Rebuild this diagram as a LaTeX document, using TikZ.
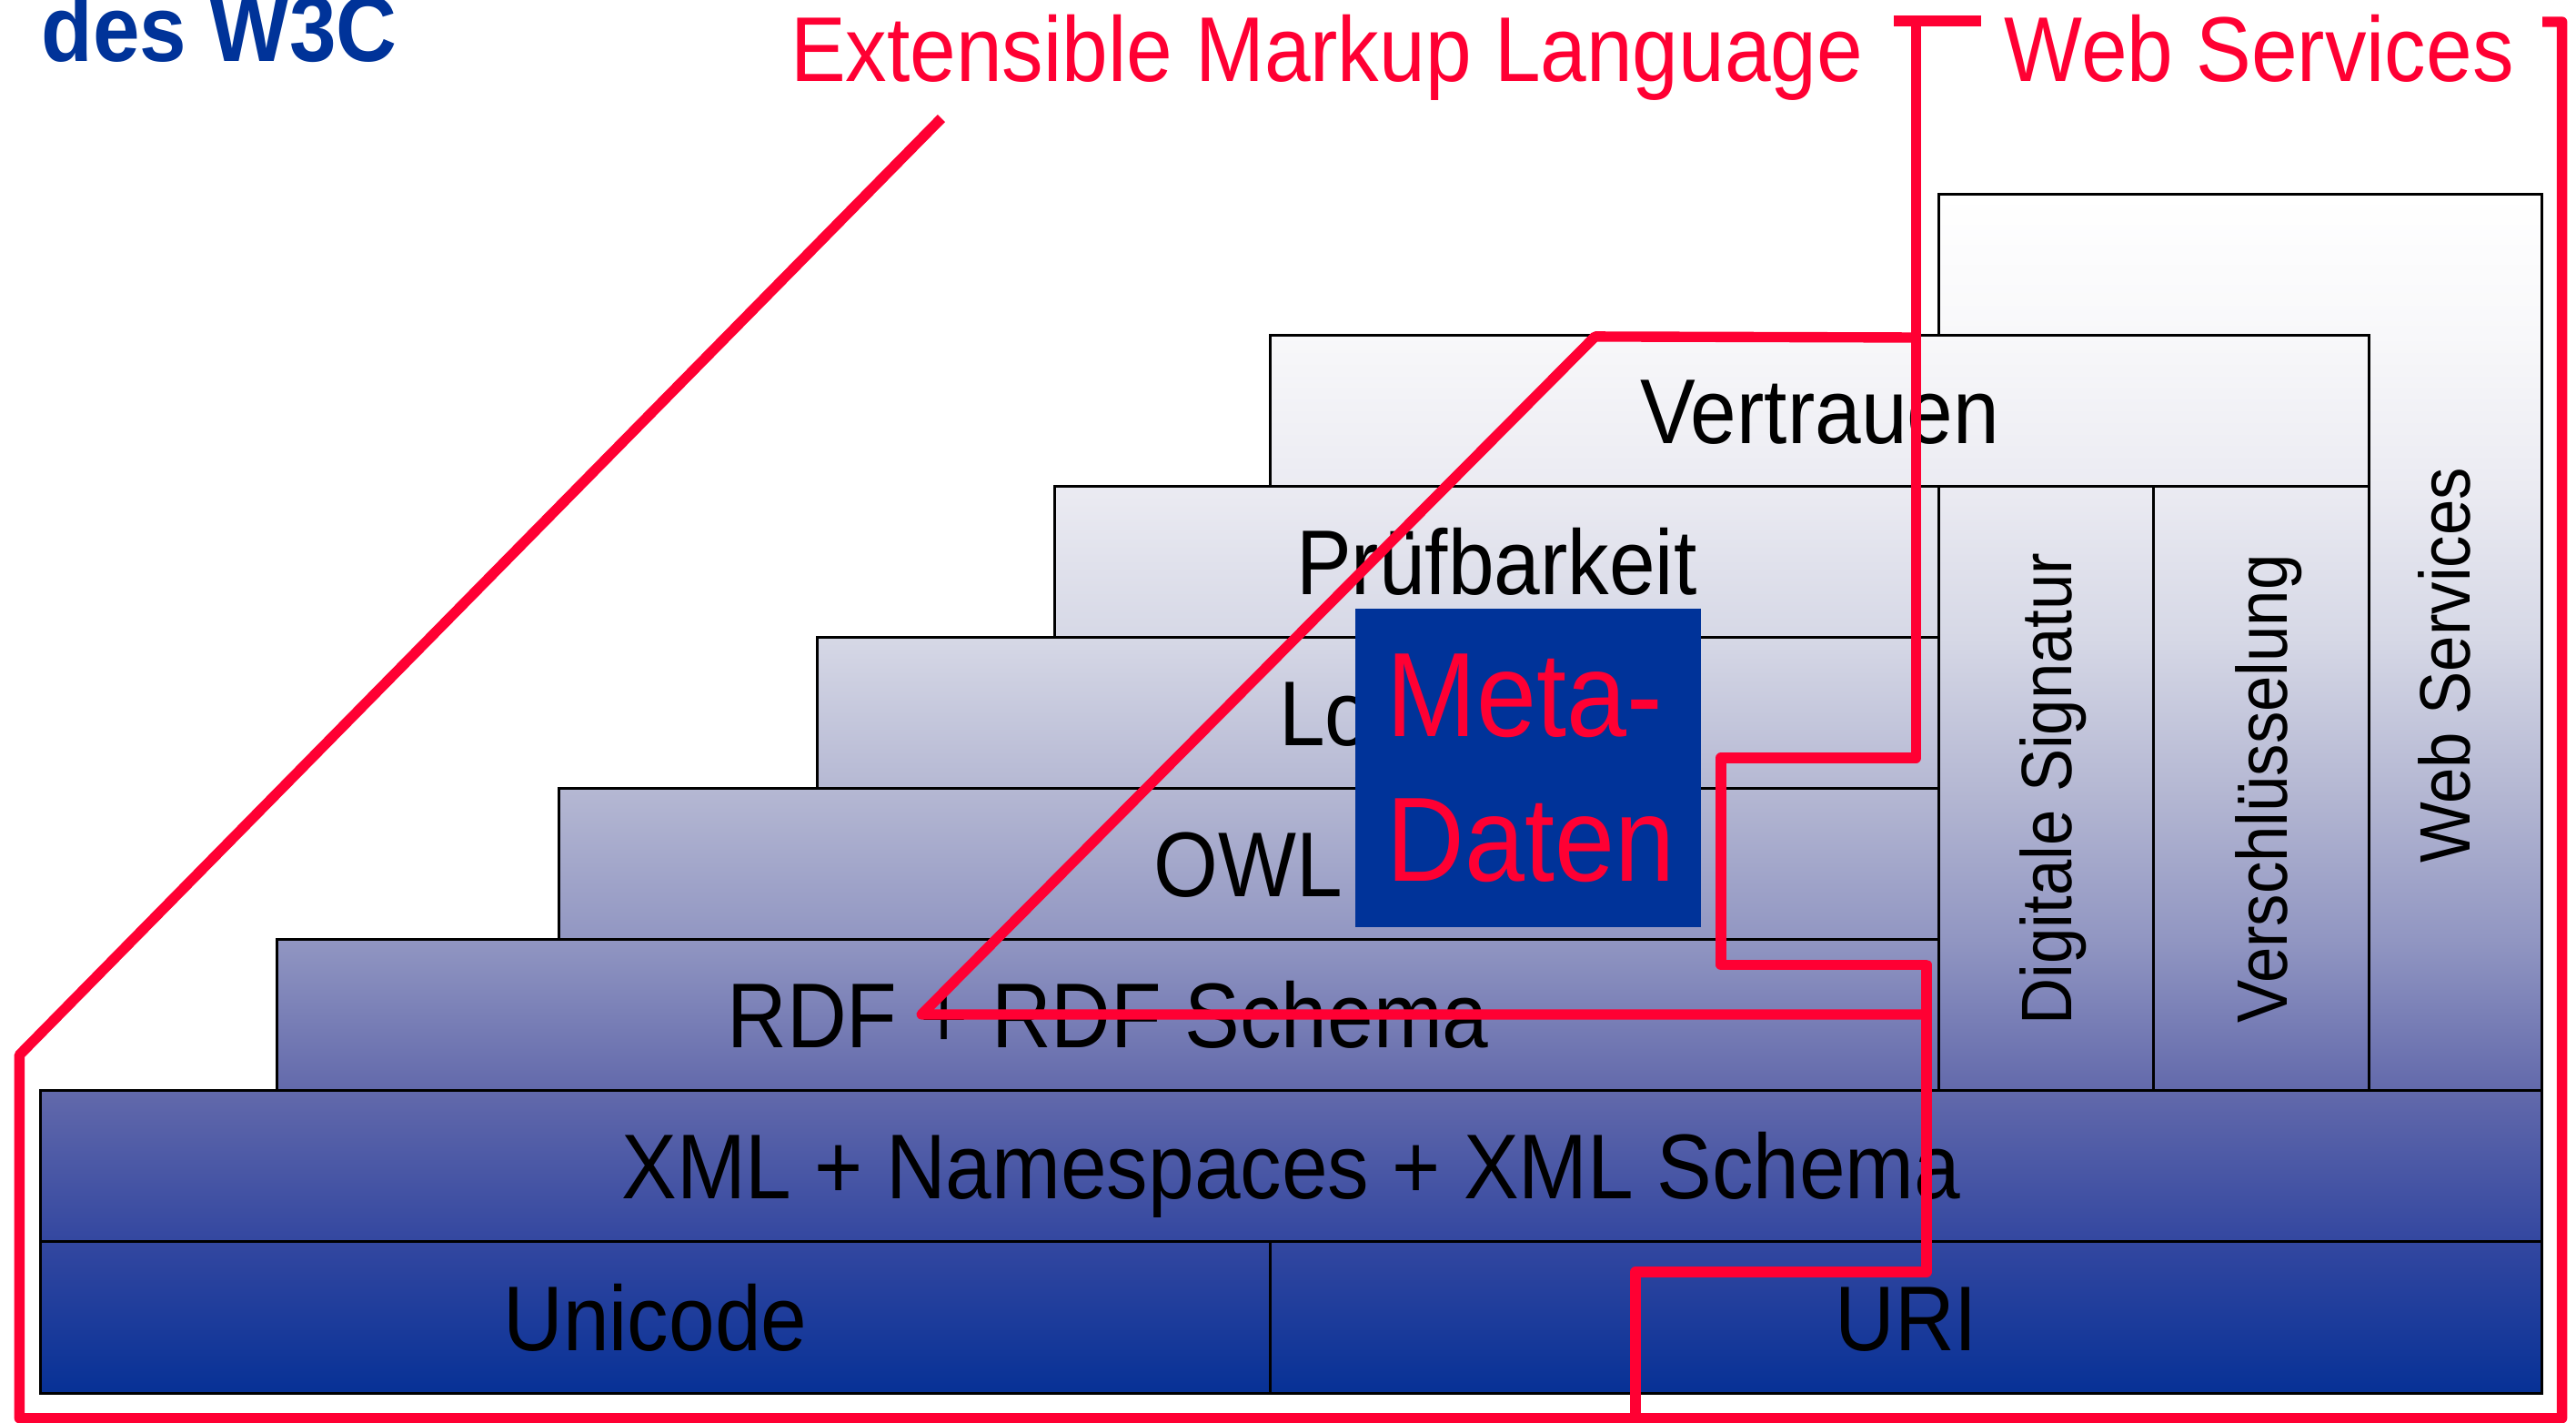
\documentclass[tikz,border=0pt]{standalone}
\usepackage{fontspec}
\setmainfont{Liberation Sans}[FakeStretch=0.9]

% colours
\definecolor{w3cblue}{HTML}{003399}
\definecolor{markred}{HTML}{FF0033}
\definecolor{g0}{HTML}{FFFFFF}
\definecolor{g1}{HTML}{F8F8FA}
\definecolor{g2}{HTML}{EBEBF2}
\definecolor{g3}{HTML}{D6D8E6}
\definecolor{g4}{HTML}{B5B8D3}
\definecolor{g5}{HTML}{9196C2}
\definecolor{g6}{HTML}{6269AB}
\definecolor{g7}{HTML}{3347A0}
\definecolor{g8}{HTML}{073196}

% one vertical gradient for the whole layer stack (25bp..75bp span the stack)
\pgfdeclareverticalshading{layerfill}{100bp}{%
  color(0bp)=(g8); color(25bp)=(g8); color(31.3bp)=(g7); color(37.6bp)=(g6);
  color(43.9bp)=(g5); color(50.21bp)=(g4); color(56.51bp)=(g3);
  color(62.81bp)=(g2); color(69.11bp)=(g1); color(75bp)=(g0); color(100bp)=(g0)}

\begin{document}
\begin{tikzpicture}[x=1pt,y=-1pt,
  layer/.style={draw=black, line width=1.6pt, inner sep=0pt,
    text height=40pt, text depth=0pt, font=\fontsize{56pt}{60pt}\selectfont},
  sidelayer/.style={layer, rotate=90, text height=31pt,
    font=\fontsize{43.5pt}{48pt}\selectfont},
  redline/.style={draw=markred, line width=6.3pt, line join=round},
  title/.style={anchor=base west, inner sep=0pt, text=markred,
    font=\fontsize{56pt}{60pt}\selectfont}]
\useasboundingbox (0,0) rectangle (1568,865.4);

% gradient fill of the whole stack
\begin{scope}
  \clip (24.4,847.7) -- (1547.4,847.7) -- (1547.4,118.1) -- (1180,118.1)
     -- (1180,204.2) -- (773.3,204.2) -- (773.3,296.1) -- (641.9,296.1)
     -- (641.9,388) -- (497.5,388) -- (497.5,479.9) -- (340,479.9)
     -- (340,571.8) -- (168.8,571.8) -- (168.8,663.7) -- (24.4,663.7) -- cycle;
  \shade[shading=layerfill] (24.4,118.1) rectangle (1547.4,847.7);
\end{scope}

% web services column (behind the trust layer)
\node[layer, minimum width=367.4, minimum height=545.6] (ws) at (1363.7,390.9) {};

% trust layer covers the column outline
\begin{scope}
  \clip (773.3,204.2) rectangle (1442,296.1);
  \shade[shading=layerfill] (24.4,118.1) rectangle (1547.4,847.7);
\end{scope}
\node[layer, minimum width=668.7, minimum height=91.9] (vert) at (1107.65,250.15) {Vertrauen};

% layer stack
\node[layer, minimum width=748.9, minimum height=92.1] (uni) at (398.85,801.65) {Unicode};
\node[layer, minimum width=774.1, minimum height=92.1] (uri) at (1160.35,801.65) {URI};
\node[layer, minimum width=1523, minimum height=91.9] (xml) at (785.9,709.65) {XML + Namespaces + XML Schema};
\node[layer, minimum width=1011.2, minimum height=91.9] (rdf) at (674.4,617.75) {RDF + RDF Schema};
\node[layer, minimum width=840, minimum height=91.9] (owl) at (760,525.85) {OWL};
\node[layer, minimum width=682.5, minimum height=91.9] (logik) at (838.75,433.95) {Logik};
\node[layer, minimum width=538.1, minimum height=91.9] (pruef) at (910.95,342.05) {Prüfbarkeit};

% vertical columns
\node[sidelayer, minimum width=367.6, minimum height=131] (dig) at (1245.5,479.9) {Digitale Signatur};
\node[sidelayer, minimum width=367.6, minimum height=131] (versch) at (1376.5,479.9) {Verschlüsselung};
\node[rotate=90, inner sep=0pt, text height=31pt, text depth=0pt,
  font=\fontsize{43.5pt}{48pt}\selectfont] (wslabel) at (1488,405) {Web Services};

% meta data box
\node[fill=w3cblue, minimum width=210.4, minimum height=193.8, inner xsep=19pt,
  inner ysep=0pt, align=left, text width=172.4pt, text=markred,
  font=\fontsize{73pt}{88pt}\selectfont] (meta) at (930.2,467.3) {Meta-\\Daten};

% headings
\node[title, text=w3cblue, font=\bfseries\fontsize{57pt}{60pt}\selectfont] (w3c) at (25,37.5) {des W3C};
\node[title] (xmltitle) at (481,49.5) {Extensible Markup Language};
\node[title] (wstitle) at (1220,49.5) {Web Services};

% red outlines of the regions
\draw[redline] (573,72) -- (11.8,642) -- (11.8,863) -- (1559.5,863)
  -- (1559.5,13.3) -- (1547.6,13.3);
\draw[redline] (1166.3,12.8) -- (1166.3,461.2) -- (1047.5,461.2) -- (1047.5,587)
  -- (1172.6,587) -- (1172.6,774) -- (995.5,774) -- (995.5,863);
\draw[redline] (1166.3,205.4) -- (970.9,204.8) -- (561,617.3) -- (1172.6,617.3);
\draw[markred, line width=6.5pt] (1153,12.8) -- (1206,12.8);
\end{tikzpicture}
\end{document}
